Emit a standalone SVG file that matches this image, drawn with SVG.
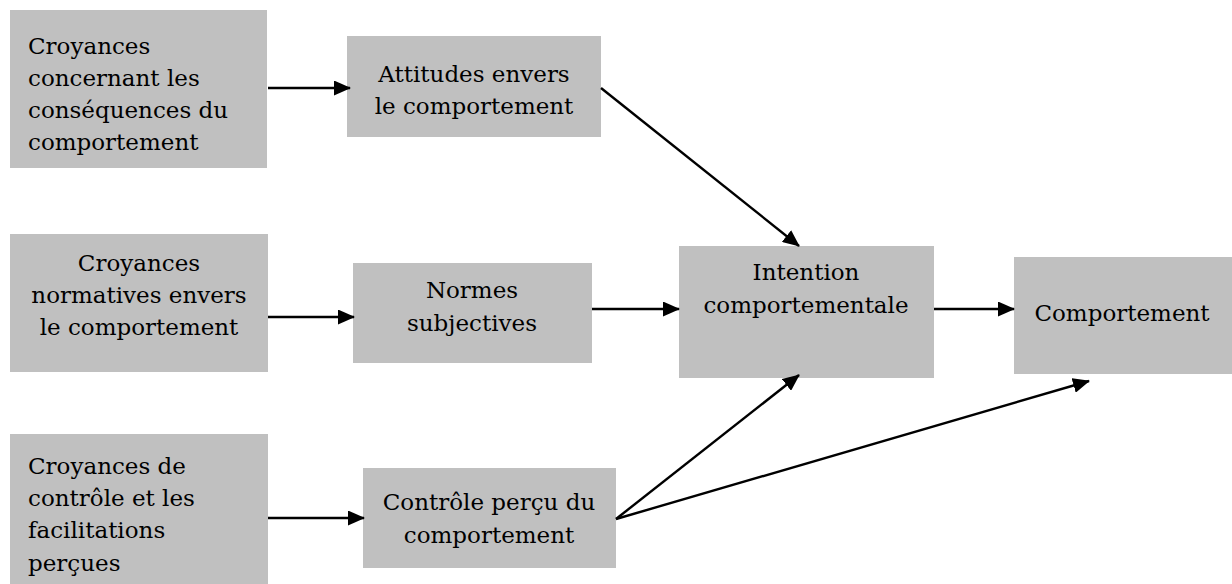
<svg xmlns="http://www.w3.org/2000/svg" width="1232" height="584" viewBox="0 0 1232 584">
<style>
.box{fill:#c0c0c0;stroke:none}
.t{font-family:'DejaVu Serif','Liberation Serif','Times New Roman',serif;font-size:23px;fill:#000}
.c{text-anchor:middle}
.ln{stroke:#000;stroke-width:2.4;fill:none;marker-end:url(#ah)}
</style>
<defs>
<marker id="ah" markerWidth="17" markerHeight="15" refX="16" refY="7.5" orient="auto" markerUnits="userSpaceOnUse">
<path d="M0,0 L17,7.5 L0,15 Z" fill="#000"/>
</marker>
</defs>
<rect width="1232" height="584" fill="#fff"/>
<g id="n1"><rect class="box" x="10" y="10" width="257" height="158"/>
<text class="t"><tspan x="28" y="54">Croyances</tspan><tspan x="28" y="86">concernant les</tspan><tspan x="28" y="118">conséquences du</tspan><tspan x="28" y="150">comportement</tspan></text></g>
<g id="n2"><rect class="box" x="347" y="36" width="254" height="101"/>
<text class="t c"><tspan x="474" y="82">Attitudes envers</tspan><tspan x="474" y="114">le comportement</tspan></text></g>
<g id="n3"><rect class="box" x="10" y="234" width="258" height="138"/>
<text class="t c"><tspan x="139" y="271">Croyances</tspan><tspan x="139" y="303">normatives envers</tspan><tspan x="139" y="335">le comportement</tspan></text></g>
<g id="n4"><rect class="box" x="353" y="263" width="239" height="100"/>
<text class="t c"><tspan x="472" y="298">Normes</tspan><tspan x="472" y="331">subjectives</tspan></text></g>
<g id="n5"><rect class="box" x="679" y="246" width="255" height="132"/>
<text class="t c"><tspan x="806" y="280">Intention</tspan><tspan x="806" y="313">comportementale</tspan></text></g>
<g id="n6"><rect class="box" x="1014" y="257" width="218" height="117"/>
<text class="t c" x="1122" y="321">Comportement</text></g>
<g id="n7"><rect class="box" x="10" y="434" width="258" height="150"/>
<text class="t"><tspan x="28" y="474">Croyances de</tspan><tspan x="28" y="506">contrôle et les</tspan><tspan x="28" y="538">facilitations</tspan><tspan x="28" y="571">perçues</tspan></text></g>
<g id="n8"><rect class="box" x="363" y="468" width="253" height="100"/>
<text class="t c"><tspan x="489" y="510">Contrôle perçu du</tspan><tspan x="489" y="543">comportement</tspan></text></g>
<g id="connectors">
<line class="ln" x1="268" y1="88" x2="350" y2="88"/>
<line class="ln" x1="601" y1="88" x2="799" y2="246"/>
<line class="ln" x1="268" y1="317" x2="354" y2="317"/>
<line class="ln" x1="592" y1="309" x2="679" y2="309"/>
<line class="ln" x1="934" y1="309" x2="1014" y2="309"/>
<line class="ln" x1="268" y1="518" x2="364" y2="518"/>
<line class="ln" x1="616" y1="519" x2="799" y2="375"/>
<line class="ln" x1="616" y1="519" x2="1089" y2="381"/>
</g>
</svg>
